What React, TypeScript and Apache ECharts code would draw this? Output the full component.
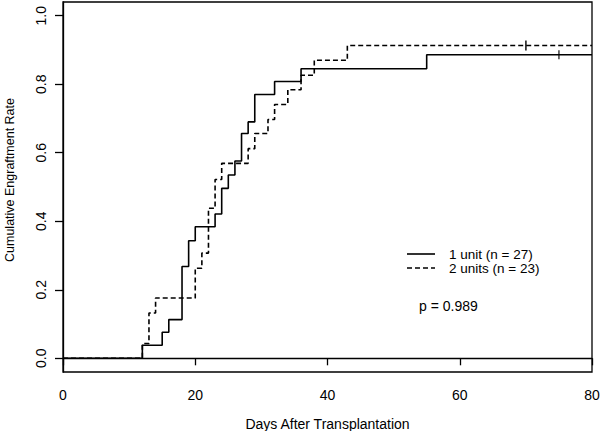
import React, { useEffect, useRef } from "react";
import * as echarts from "echarts";

// Days and cumulative engraftment rate (step functions)
const oneUnitDays = [0, 12, 15, 16, 18, 19, 20, 23, 24, 25, 26, 27, 28, 29, 32, 36, 55, 80];
const oneUnitRate = [0, 0.038, 0.076, 0.113, 0.268, 0.343, 0.384, 0.421, 0.496, 0.535, 0.576, 0.656, 0.69, 0.77, 0.808, 0.845, 0.886, 0.886];
const twoUnitDays = [0, 12, 13, 14, 20, 21, 22, 23, 24, 28, 29, 31, 32, 34, 36, 38, 43, 80];
const twoUnitRate = [0, 0.043, 0.132, 0.176, 0.263, 0.307, 0.438, 0.522, 0.569, 0.612, 0.656, 0.697, 0.741, 0.784, 0.826, 0.87, 0.913, 0.913];
const oneUnitCensorDays = [75];
const oneUnitCensorRate = [0.886];
const twoUnitCensorDays = [70];
const twoUnitCensorRate = [0.913];
const yTicks = [0, 0.2, 0.4, 0.6, 0.8, 1.0];
const seriesNames = ["1 unit (n = 27)", "2 units (n = 23)"];
const pValueText = "p = 0.989";

const FONT = "Liberation Sans, Arial, sans-serif";

export default function App() {
  const ref = useRef<HTMLDivElement>(null);
  useEffect(() => {
    if (!ref.current) return;
    const chart = echarts.init(ref.current, undefined, { renderer: "svg" });
    const zip = (a: number[], b: number[]) => a.map((x, i) => [x, b[i]]);
    const legendRows = [
      { y: 254, dash: null as null | number[], name: seriesNames[0] },
      { y: 268, dash: [5, 3], name: seriesNames[1] },
    ];
    const legendGraphics: any[] = [];
    legendRows.forEach((r) => {
      legendGraphics.push({
        type: "line",
        shape: { x1: 407, y1: r.y, x2: 435, y2: r.y },
        style: { stroke: "#000", lineWidth: 1.6, lineDash: r.dash || undefined },
      });
      legendGraphics.push({
        type: "text",
        x: 449,
        y: r.y,
        style: {
          text: r.name,
          fontFamily: FONT,
          fontSize: 13.5,
          lineHeight: 13,
          fill: "#000",
          align: "left",
          verticalAlign: "middle",
        },
      });
    });
    chart.setOption({
      animation: false,
      backgroundColor: "#ffffff",
      textStyle: { fontFamily: FONT, color: "#000" },
      grid: {
        left: 63,
        right: 8,
        top: 2,
        bottom: 59,
        show: true,
        borderColor: "#000",
        borderWidth: 1.3,
        backgroundColor: "transparent",
        outerBoundsMode: "none",
        containLabel: false,
      },
      xAxis: {
        type: "value",
        min: 0,
        max: 80,
        interval: 20,
        name: "Days After Transplantation",
        nameLocation: "middle",
        nameGap: 45,
        nameTextStyle: { fontFamily: FONT, fontSize: 14, color: "#000" },
        axisLine: { show: true, lineStyle: { color: "#000", width: 1.3 } },
        axisTick: { show: true, length: 7, lineStyle: { color: "#000", width: 1.3 } },
        axisLabel: { margin: 16, fontSize: 14, fontFamily: FONT, color: "#000" },
        splitLine: { show: false },
      },
      yAxis: {
        type: "value",
        min: -0.04,
        max: 1.04,
        axisLine: { show: true, lineStyle: { color: "#000", width: 1.3 } },
        axisTick: { show: true, length: 8, customValues: yTicks, lineStyle: { color: "#000", width: 1.3 } },
        axisLabel: {
          customValues: yTicks,
          rotate: 90,
          margin: 15,
          fontSize: 14,
          fontFamily: FONT,
          color: "#000",
          formatter: (v: number) => v.toFixed(1),
        },
        splitLine: { show: false },
      },
      series: [
        {
          name: seriesNames[0],
          type: "line",
          step: "end",
          symbol: "none",
          data: zip(oneUnitDays, oneUnitRate),
          lineStyle: { color: "#000", width: 1.6, type: "solid" },
          itemStyle: { color: "#000" },
        },
        {
          name: seriesNames[1],
          type: "line",
          step: "end",
          symbol: "none",
          data: zip(twoUnitDays, twoUnitRate),
          lineStyle: { color: "#000", width: 1.6, type: [5, 3] },
          itemStyle: { color: "#000" },
        },
        {
          name: "censor1",
          type: "scatter",
          symbol: "rect",
          symbolSize: [1.4, 9],
          data: zip(oneUnitCensorDays, oneUnitCensorRate),
          itemStyle: { color: "#000" },
        },
        {
          name: "censor2",
          type: "scatter",
          symbol: "rect",
          symbolSize: [1.8, 10],
          data: zip(twoUnitCensorDays, twoUnitCensorRate),
          itemStyle: { color: "#000" },
        },
      ],
      graphic: [
        {
          type: "text",
          x: 10,
          y: 180,
          rotation: Math.PI / 2,
          style: {
            text: "Cumulative Engraftment Rate",
            fontFamily: FONT,
            fontSize: 12.5,
            fill: "#000",
            align: "center",
            verticalAlign: "middle",
          },
        },
        ...legendGraphics,
        {
          type: "text",
          x: 419,
          y: 306,
          style: {
            text: pValueText,
            fontFamily: FONT,
            fontSize: 14,
            fill: "#000",
            align: "left",
            verticalAlign: "middle",
          },
        },
      ],
    });
    return () => chart.dispose();
  }, []);
  return <div ref={ref} style={{ width: 600, height: 431, position: "absolute", left: 0, top: 0 }} />;
}
